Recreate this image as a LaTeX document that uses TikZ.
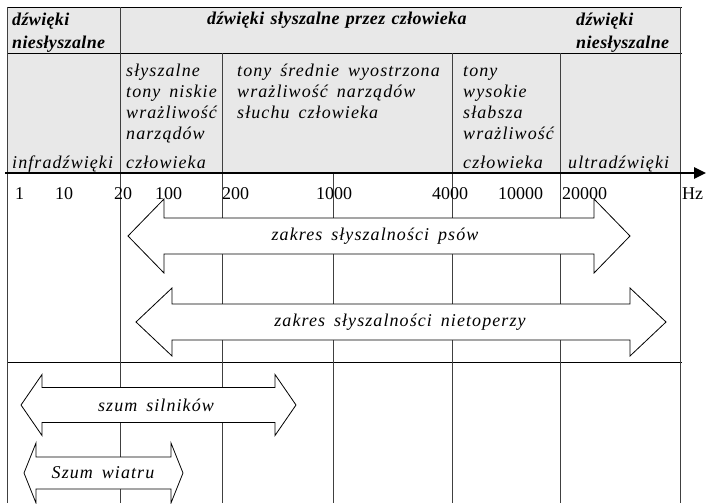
\documentclass[tikz,border=0pt]{standalone}
\usepackage{fontspec}
\setmainfont{Liberation Serif}
\newfontfamily\tabfont[LetterSpace=6,WordSpace=1.6]{Liberation Serif}
\newfontfamily\hdfont[LetterSpace=2,WordSpace=1.3]{Liberation Serif}
\usetikzlibrary{arrows.meta}
\definecolor{tlo}{HTML}{E8E8E8}
% double block arrow: left tip x, right tip x, mid y, head length, shaft half, head half
\newcommand{\strzalka}[6]{%
  \draw[blok] (#1,#3) -- (#1+#4,#3-#6) -- (#1+#4,#3-#5) -- (#2-#4,#3-#5) -- (#2-#4,#3-#6) -- (#2,#3)
    -- (#2-#4,#3+#6) -- (#2-#4,#3+#5) -- (#1+#4,#3+#5) -- (#1+#4,#3+#6) -- cycle;}

\begin{document}
\begin{tikzpicture}[x=1pt,y=-1pt,
  hd/.style={inner sep=0,anchor=north west,align=left,font=\hdfont\fontsize{18}{23}\selectfont\bfseries\itshape},
  tx/.style={inner sep=0,anchor=north west,align=left,font=\tabfont\fontsize{18}{21}\selectfont\itshape},
  tk/.style={inner sep=0,anchor=base west,font=\fontsize{18}{20}\selectfont},
  lbl/.style={inner sep=0,font=\tabfont\fontsize{18}{20}\selectfont\itshape},
  ln/.style={black!75,line width=0.9pt},
  blok/.style={draw,fill=white,line width=0.8pt},
  os/.style={line width=2.6pt,-{Triangle[length=12pt,width=11pt]}}
]
\useasboundingbox (0,0) rectangle (706,503);
\fill[tlo] (7,7) rectangle (680,173);

% grid
\draw[line width=0.9pt] (7,7) -- (682,7) (7,53) -- (682,53) (7,362) -- (682,362);
\draw[ln] (7,7) -- (7,503) (680,7) -- (680,503) (120,7) -- (120,503);
\draw[ln] (222,53) -- (222,503) (452,53) -- (452,503) (560,53) -- (560,503) (333,173) -- (333,503);
\draw[os] (5,173) -- (706,173);

% column heads
\node[hd] (nsl) at (12,9) {\strut dźwięki\\niesłyszalne};
\node[hd,anchor=base west] (sl) at (207,25) {dźwięki słyszalne przez człowieka};
\node[hd] (nsp) at (576,9) {\strut dźwięki\\niesłyszalne};

\node[tx,anchor=base west] (infra) at (12,168) {infradźwięki};
\node[tx] (nisk) at (126,62) {\strut słyszalne\\tony niskie\\wrażliwość\\narządów};
\node[tx,anchor=base west] (nisk2) at (126,168) {człowieka};
\node[tx] (sred) at (237,62) {\strut tony średnie wyostrzona\\wrażliwość narządów\\słuchu człowieka};
\node[tx] (wys) at (463,62) {\strut tony\\wysokie\\słabsza\\wrażliwość};
\node[tx,anchor=base west] (wys2) at (463,168) {człowieka};
\node[tx,anchor=base west] (ultra) at (568,168) {ultradźwięki};

% scale
\node[tk] (f1) at (15,199) {1};
\node[tk] (f10) at (55,199) {10};
\node[tk] (f20) at (114,199) {20};
\node[tk] (f100) at (155,199) {100};
\node[tk] (f200) at (222,199) {200};
\node[tk] (f1k) at (316,199) {1000};
\node[tk] (f4k) at (432,199) {4000};
\node[tk] (f10k) at (498,199) {10000};
\node[tk] (f20k) at (562,199) {20000};
\node[tk] (hz) at (682,199) {Hz};

% ranges
\strzalka{128}{630}{236}{36}{18}{37}
\node[lbl] (psy) at (375,236) {zakres słyszalności psów};
\strzalka{136}{666}{322}{36}{18}{34}
\node[lbl] (nietop) at (400,322) {zakres słyszalności nietoperzy};
\strzalka{21}{296}{405}{21}{17.5}{30.5}
\node[lbl] (silnik) at (156,405) {szum silników};
\strzalka{24}{183}{473}{12}{16}{30}
\node[lbl] (wiatr) at (103,473) {Szum wiatru};
\end{tikzpicture}
\end{document}
